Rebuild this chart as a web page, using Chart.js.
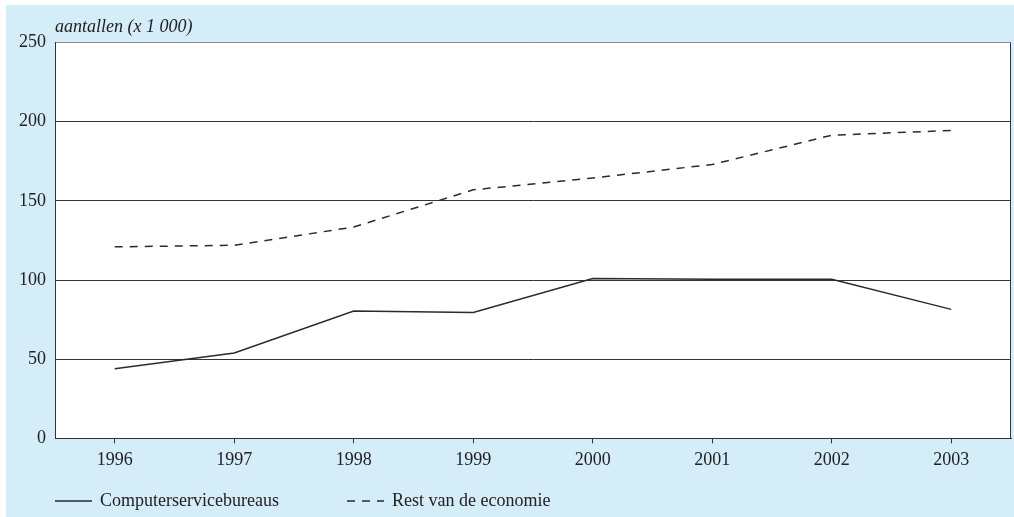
<!DOCTYPE html>
<html>
<head>
<meta charset="utf-8">
<title>Werkzame personen</title>
<script src="https://cdn.jsdelivr.net/npm/chart.js@4.4.1/dist/chart.umd.min.js"></script>
<style>
  html, body { margin: 0; padding: 0; background: #fff; }
  #kader { position: absolute; left: 6px; top: 5px; width: 1008px; height: 512px; background: #d5ecf9; }
  canvas { display: block; }
</style>
</head>
<body>
<div id="kader"><canvas id="grafiek" width="1008" height="512"></canvas></div>
<script>
// Jaren op de x-as
var jaren = ['1996', '1997', '1998', '1999', '2000', '2001', '2002', '2003'];
// Aantallen werkzame personen (x 1 000)
var computerservicebureaus = [44, 54, 80.5, 79.5, 101, 100.5, 100.5, 81.5];
var restVanDeEconomie = [121, 122, 133.5, 157, 164.5, 173, 191.5, 194.5];
// Waarden op de y-as
var yTicks = [0, 50, 100, 150, 200, 250];

var lijnKleur = '#2b2b2b';
var lettertype = "'Liberation Serif', 'Times New Roman', serif";

Chart.defaults.font.family = lettertype;
Chart.defaults.font.size = 18;
Chart.defaults.color = '#222';

// Witte plotvlak, rechterrand en legenda onderaan
var kaderPlugin = {
    id: 'kader',
    beforeDraw: function(chart) {
        var ctx = chart.ctx, a = chart.chartArea;
        ctx.save();
        ctx.fillStyle = '#fff';
        ctx.fillRect(a.left, a.top, a.right - a.left, a.bottom - a.top);
        ctx.restore();
    },
    afterDraw: function(chart) {
        var ctx = chart.ctx, a = chart.chartArea;
        ctx.save();
        ctx.strokeStyle = '#333';
        ctx.lineWidth = 1;
        ctx.beginPath();
        ctx.moveTo(a.right - 0.5, a.top);
        ctx.lineTo(a.right - 0.5, a.bottom);
        ctx.stroke();

        // legenda
        var startX = [49, 341];
        var y = 496;
        chart.data.datasets.forEach(function(ds, i) {
            var x = startX[i];
            ctx.strokeStyle = ds.borderColor;
            ctx.lineWidth = ds.borderWidth;
            ctx.setLineDash(ds.borderDash || []);
            ctx.beginPath();
            ctx.moveTo(x, y);
            ctx.lineTo(x + 37, y);
            ctx.stroke();
            ctx.setLineDash([]);
            ctx.fillStyle = '#222';
            ctx.font = '18px ' + lettertype;
            ctx.textBaseline = 'middle';
            ctx.textAlign = 'left';
            ctx.fillText(ds.label, x + 45, y);
        });
        ctx.restore();
    }
};

new Chart(document.getElementById('grafiek'), {
    type: 'line',
    data: {
        labels: jaren,
        datasets: [
            {
                label: 'Computerservicebureaus',
                data: computerservicebureaus,
                borderColor: lijnKleur,
                borderWidth: 1.5,
                pointRadius: 0,
                tension: 0,
                fill: false
            },
            {
                label: 'Rest van de economie',
                data: restVanDeEconomie,
                borderColor: lijnKleur,
                borderWidth: 1.5,
                borderDash: [8, 7],
                pointRadius: 0,
                tension: 0,
                fill: false
            }
        ]
    },
    options: {
        responsive: false,
        animation: false,
        layout: { padding: { left: 0, right: 3, top: 0, bottom: 40 } },
        plugins: {
            legend: { display: false },
            tooltip: { enabled: false },
            title: {
                display: true,
                text: 'aantallen (x 1 000)',
                align: 'start',
                fullSize: false,
                color: '#222',
                font: { size: 18, style: 'italic', weight: 'normal' },
                padding: { top: 11, bottom: 5 }
            }
        },
        scales: {
            x: {
                offset: true,
                grid: { drawOnChartArea: false, drawTicks: true, tickLength: 5, color: '#333' },
                border: { display: true, color: '#333', width: 1 },
                ticks: { padding: 6, maxRotation: 0 }
            },
            y: {
                min: 0,
                max: 250,
                afterBuildTicks: function(scale) {
                    scale.ticks = yTicks.map(function(v) { return { value: v }; });
                },
                afterFit: function(scale) { scale.width = 49; },
                grid: {
                    drawTicks: false,
                    color: function(c) { return c.tick && c.tick.value === 250 ? '#8c8c8c' : '#333'; },
                    lineWidth: 1
                },
                border: { display: true, color: '#333', width: 1 },
                ticks: { padding: 9 }
            }
        }
    },
    plugins: [kaderPlugin]
});
</script>
</body>
</html>
